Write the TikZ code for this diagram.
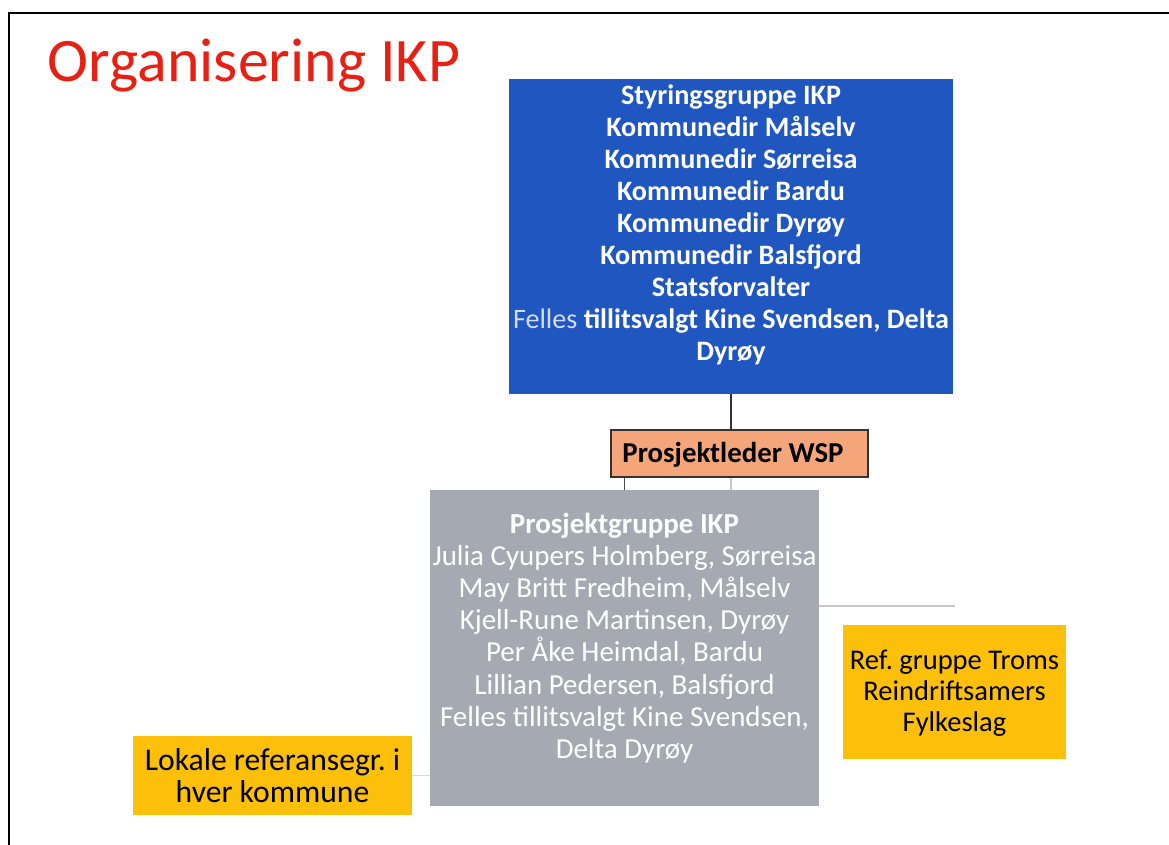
\documentclass[tikz,border=0pt]{standalone}
\usepackage{fontspec}
\setmainfont{Carlito}
\frenchspacing
\definecolor{tittelrod}{RGB}{232,32,20}
\definecolor{styreblaa}{RGB}{32,86,192}
\definecolor{lederoransje}{RGB}{244,166,122}
\definecolor{gruppegraa}{RGB}{165,170,178}
\definecolor{refgul}{RGB}{253,192,10}
\definecolor{svaklinje}{RGB}{200,200,200}
\begin{document}
\begin{tikzpicture}[x=0.025cm, y=-0.025cm,
	boks/.style={rectangle, inner sep=0pt},
	tekst/.style={align=center, font=\fontsize{20.3}{22.8}\selectfont},
	svak/.style={draw=svaklinje, line width=0.8pt}]
	\useasboundingbox (0,0) rectangle (1169,845);
	\draw[line width=1.4pt] (1169,13) -- (9,13) -- (9,845);
	\node[anchor=base west, text=tittelrod, font=\fontsize{44}{52}\selectfont] (tittel) at (43,82) {Organisering IKP};

	\node[boks, fill=styreblaa, minimum width=11.1cm, minimum height=7.875cm] (styring) at (731,236.5) {};
	\node[tekst, text=white, font=\fontsize{20}{22.8}\selectfont\bfseries] (styringtekst) at (731,225) {Styringsgruppe IKP\\
		Kommunedir Målselv\\ Kommunedir Sørreisa\\ Kommunedir Bardu\\ Kommunedir Dyrøy\\
		Kommunedir Balsfjord\\ Statsforvalter\\
		{\mdseries\color{white!80!styreblaa}Felles} tillitsvalgt Kine Svendsen, Delta\\ Dyrøy};

	\node[boks, draw=black!80, line width=0.8pt, fill=lederoransje, minimum width=6.425cm, minimum height=1.175cm] (leder) at (739.5,453.5) {};
	\node[tekst, font=\fontsize{20.5}{22.8}\selectfont\bfseries] (ledertekst) at (733,455) {Prosjektleder WSP};

	\node[boks, fill=gruppegraa, minimum width=9.725cm, minimum height=7.9cm] (gruppe) at (624.5,648) {};
	\node[tekst, text=white, font=\fontsize{20.6}{22.9}\selectfont] (gruppetekst) at (624.5,638) {\textbf{Prosjektgruppe IKP}\\
		Julia Cyupers Holmberg, Sørreisa\\ May Britt Fredheim, Målselv\\
		Kjell-Rune Martinsen, Dyrøy\\ Per Åke Heimdal, Bardu\\ Lillian Pedersen, Balsfjord\\
		Felles tillitsvalgt Kine Svendsen,\\ Delta Dyrøy};

	\node[boks, fill=refgul, minimum width=5.575cm, minimum height=3.35cm] (ref) at (954.5,692) {};
	\node[tekst, font=\fontsize{20.3}{22.2}\selectfont] (reftekst) at (954.5,693) {Ref. gruppe Troms\\ Reindriftsamers\\ Fylkeslag};

	\node[boks, fill=refgul, minimum width=6.975cm, minimum height=1.975cm] (lokale) at (272.5,775.5) {};
	\node[tekst, font=\fontsize{22.5}{22.8}\selectfont] (lokaletekst) at (272.5,776) {Lokale referansegr. i\\ hver kommune};

	% linjer mellom boksene
	\coordinate (knekk) at (954.5,606);
	\draw[black!80, line width=1pt] (styring.south) -- (styring.south |- leder.north);
	\draw[black!70, line width=0.8pt] (gruppe.north) -- (gruppe.north |- leder.south);
	\draw[svak] (styring.south |- leder.south) -- (styring.south |- gruppe.north);
	\draw[svak] (gruppe.east |- knekk) -- (knekk);
	\draw[draw=refgul!60, line width=0.8pt] (lokale.east) -- (lokale.east -| gruppe.west);
\end{tikzpicture}
\end{document}
